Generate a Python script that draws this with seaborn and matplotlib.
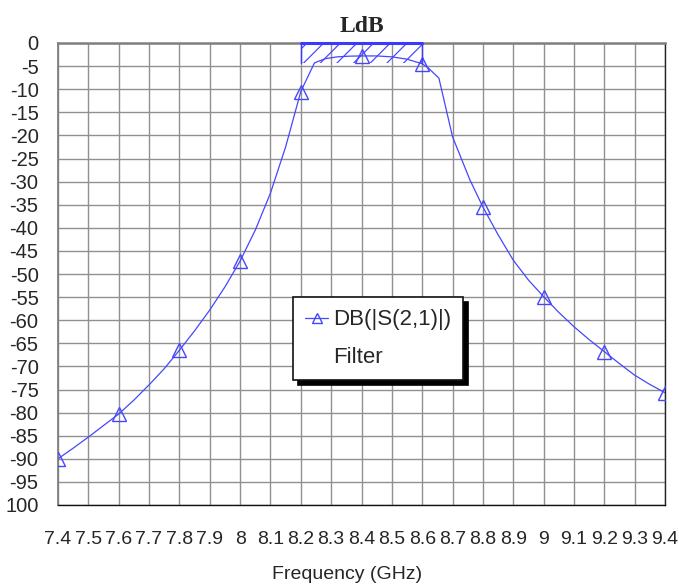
import matplotlib
matplotlib.use("Agg")
import matplotlib.pyplot as plt
from matplotlib.lines import Line2D
from matplotlib.patches import Rectangle
import seaborn as sns
import pandas as pd

# ---------------- data ----------------
freq_ghz = [7.40, 7.45, 7.50, 7.55, 7.60, 7.65, 7.70, 7.75, 7.80, 7.85,
            7.90, 7.95, 8.00, 8.05, 8.10, 8.15, 8.20, 8.245, 8.28, 8.32,
            8.36, 8.40, 8.45, 8.50, 8.55, 8.60, 8.62, 8.655, 8.70, 8.757,
            8.80, 8.85, 8.90, 8.95, 9.00, 9.05, 9.10, 9.15, 9.20, 9.25,
            9.30, 9.35, 9.40]
s21_db = [-90.0, -87.7, -85.3, -82.8, -80.3, -77.3, -74.0, -70.5, -66.5, -62.3,
          -57.8, -52.8, -47.2, -40.5, -32.5, -22.5, -10.5, -4.3, -3.4, -3.0,
          -2.85, -2.8, -2.8, -3.0, -3.5, -4.5, -5.4, -7.6, -20.3, -29.6,
          -35.5, -41.5, -47.0, -51.3, -54.9, -58.3, -61.4, -64.2, -66.8, -69.4,
          -71.9, -73.9, -75.7]
marker_freqs = [7.4, 7.6, 7.8, 8.0, 8.2, 8.4, 8.6, 8.8, 9.0, 9.2, 9.4]

spec_f_lo, spec_f_hi = 8.2, 8.6
spec_db_top, spec_db_bottom = 0.0, -4.4

x_ticks = [round(7.4 + 0.1 * i, 1) for i in range(21)]
x_tick_labels = ["7.4", "7.5", "7.6", "7.7", "7.8", "7.9", "8", "8.1", "8.2", "8.3",
                 "8.4", "8.5", "8.6", "8.7", "8.8", "8.9", "9", "9.1", "9.2", "9.3", "9.4"]
y_ticks = [-5 * i for i in range(21)]
y_tick_labels = [str(v) for v in y_ticks[:-1]] + ["100"]

series_label = "DB(|S(2,1)|)"
series_label2 = "Filter"
title = "LdB"
x_label = "Frequency (GHz)"

# ---------------- style ----------------
sns.set_style("white")
plt.rcParams["font.family"] = ["Liberation Sans", "DejaVu Sans"]
plt.rcParams["hatch.linewidth"] = 0.9

line_color = "#4646ff"
hatch_color = "#4a4aff"
grid_color = "#909090"

fig = plt.figure(figsize=(6.79, 5.85), dpi=100)
ax = fig.add_axes([58 / 679, 1 - 505 / 585, 607 / 679, 462 / 585])

df = pd.DataFrame({"f": freq_ghz, "db": s21_db})
mk_idx = [min(range(len(freq_ghz)), key=lambda i: abs(freq_ghz[i] - m)) for m in marker_freqs]
sns.lineplot(data=df, x="f", y="db", ax=ax, color=line_color, linewidth=0.9,
             marker="^", markevery=mk_idx, markersize=9.5, markerfacecolor="none",
             markeredgecolor=line_color, markeredgewidth=1.0, sort=False, zorder=4)

# spec mask (hatched)
ax.add_patch(Rectangle((spec_f_lo, spec_db_bottom), spec_f_hi - spec_f_lo,
                       spec_db_top - spec_db_bottom, facecolor="none",
                       edgecolor=hatch_color, linewidth=0, hatch="//", zorder=3))
ax.plot([spec_f_lo, spec_f_hi], [spec_db_top, spec_db_top], color="#3a3aff", lw=2.2, zorder=5, clip_on=False)
ax.plot([spec_f_lo, spec_f_lo], [spec_db_top, spec_db_bottom], color="#3a3aff", lw=1.0, zorder=5)
ax.plot([spec_f_hi, spec_f_hi], [spec_db_top, spec_db_bottom], color="#3a3aff", lw=1.0, zorder=5)

ax.set_xlim(7.4, 9.4)
ax.set_ylim(-100, 0)
ax.set_xticks(x_ticks)
ax.set_xticklabels(x_tick_labels)
ax.set_yticks(y_ticks)
ax.set_yticklabels(y_tick_labels)
ax.tick_params(axis="x", length=0, pad=19, labelsize=14)
ax.tick_params(axis="y", length=0, pad=14, labelsize=14.5)
ax.grid(True, color=grid_color, linewidth=1.0)
ax.set_axisbelow(True)

for side, col, lw in [("top", "#808080", 1.8), ("left", "#808080", 1.3),
                      ("right", "#222222", 1.0), ("bottom", "#111111", 1.0)]:
    ax.spines[side].set_visible(True)
    ax.spines[side].set_color(col)
    ax.spines[side].set_linewidth(lw)

ax.set_xlabel(x_label, fontsize=14)
ax.xaxis.set_label_coords(0.476, -0.132)
ax.set_ylabel("")
ax.set_title(title, family=["Liberation Serif", "DejaVu Serif"], fontweight="bold",
             fontsize=17, pad=8)

handles = [Line2D([0], [0], color=line_color, lw=0.9, marker="^", markersize=7,
                  markerfacecolor="none", markeredgecolor=line_color),
           Line2D([], [], color="none")]
leg = ax.legend(handles, [series_label, series_label2], loc="upper left",
                bbox_to_anchor=(0.387, 0.450), fontsize=16, frameon=True,
                fancybox=False, edgecolor="#111111", framealpha=1,
                shadow={"color": "black", "alpha": 1, "ox": 3.6, "oy": -3.6},
                borderpad=0.55, labelspacing=0.75, handlelength=1.05, handletextpad=0.2,
                borderaxespad=0)
leg.get_frame().set_linewidth(1.2)
leg.set_zorder(10)

fig.savefig("out.png", dpi=100)
